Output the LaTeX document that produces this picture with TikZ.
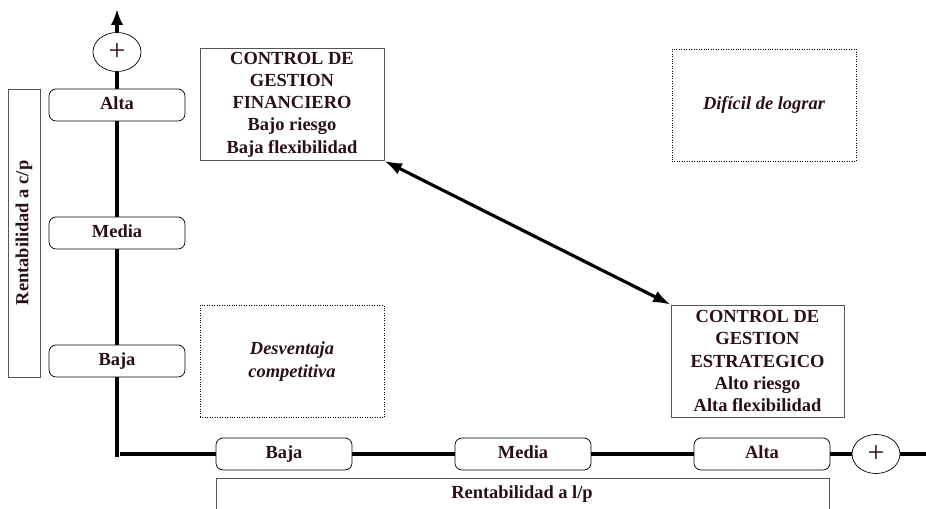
\documentclass[tikz,border=0pt]{standalone}
\usepackage{fontspec}
\setmainfont{Liberation Serif}
\usetikzlibrary{arrows.meta,shapes.geometric}
\definecolor{ink}{HTML}{2A0F1A}
\definecolor{frame}{HTML}{555555}

\begin{document}
\begin{tikzpicture}[x=0.2mm,y=-0.2mm,
    every node/.style={text=ink,font=\fontsize{10.5}{12.7}\selectfont\bfseries},
    levelbox/.style={draw=black,rounded corners=4pt,fill=white,
        minimum width=27.2mm,minimum height=6.4mm,inner sep=0pt,
        text height=7pt,text depth=2.2pt},
    plusnode/.style={draw=black,ellipse,fill=white,
        minimum width=9.6mm,minimum height=7.8mm,inner sep=0pt,
        font=\fontsize{17}{17}\selectfont},
    quadbox/.style={draw=frame,thin,minimum width=36.8mm,minimum height=22.4mm,
        align=center,inner sep=0pt},
    softbox/.style={quadbox,draw=black,densely dotted,
        font=\fontsize{10.5}{12.7}\selectfont\bfseries\itshape},
    axisline/.style={line width=1.8pt},
  ]
    \clip (0,0) rectangle (926,509);

    % eje vertical
    \coordinate (origen) at (117,457);
    \coordinate (tope) at (117,9);
    \node[levelbox] (vbaja) at (117,361) {Baja};
    \node[levelbox] (vmedia) at (117,233) {Media};
    \node[levelbox] (valta) at (117,105) {Alta};
    \node[plusnode] (vplus) at (117,52) {+};
    \draw[axisline] (origen) -- (vbaja.south);
    \draw[axisline] (vbaja.north) -- (vmedia.south);
    \draw[axisline] (vmedia.north) -- (valta.south);
    \draw[axisline] (valta.north) -- (vplus.south);
    \draw[axisline,-{Latex[length=9pt,width=7pt]}] (vplus.north) -- (tope);

    % titulo eje vertical
    \draw[frame,thin] (8,89) rectangle (40,377);
    \node[rotate=90] (cp) at (24,233) {Rentabilidad a c/p};

    % eje horizontal
    \coordinate (esquina) at (120,454);
    \coordinate (fin) at (926,454);
    \node[levelbox] (hbaja) at (284,454) {Baja};
    \node[levelbox] (hmedia) at (523,454) {Media};
    \node[levelbox] (halta) at (762,454) {Alta};
    \node[plusnode] (hplus) at (876,454) {+};
    \draw[axisline] (esquina) -- (hbaja.west);
    \draw[axisline] (hbaja.east) -- (hmedia.west);
    \draw[axisline] (hmedia.east) -- (halta.west);
    \draw[axisline] (halta.east) -- (hplus.west);
    \draw[axisline] (hplus.east) -- (fin);

    % titulo eje horizontal
    \draw[frame,thin] (216,530) -- (216,478) -- (829,478) -- (829,530);
    \node (lp) at (522,494) {Rentabilidad a l/p};

    % cuadrantes
    \node[quadbox] (financiero) at (292,104.5)
        {CONTROL DE\\GESTION\\FINANCIERO\\Bajo riesgo\\Baja flexibilidad};
    \node[softbox] (dificil) at (764,105) {Difícil de lograr};
    \node[softbox] (desventaja) at (292,361.5) {Desventaja\\competitiva};
    \node[quadbox,minimum width=34.6mm] (estrategico) at (757.5,361)
        {CONTROL DE\\GESTION\\ESTRATEGICO\\Alto riesgo\\Alta flexibilidad};

    \draw[axisline,{Latex[length=10pt,width=7pt]}-{Latex[length=10pt,width=7pt]}]
        (financiero.south east) -- (estrategico.north west);
\end{tikzpicture}
\end{document}
